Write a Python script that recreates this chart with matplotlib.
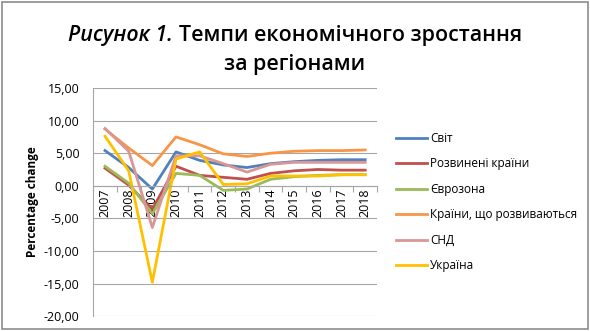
import matplotlib.pyplot as plt
import matplotlib.patches as patches

years = ["2007", "2008", "2009", "2010", "2011", "2012",
         "2013", "2014", "2015", "2016", "2017", "2018"]

world = [5.4, 2.8, -0.5, 5.2, 3.9, 3.2, 2.8, 3.4, 3.7, 3.9, 4.0, 4.0]
advanced = [2.7, 0.1, -3.6, 3.0, 1.6, 1.3, 1.0, 1.9, 2.3, 2.5, 2.4, 2.4]
eurozone = [3.0, 0.4, -4.3, 1.9, 1.6, -0.7, -0.5, 1.0, 1.4, 1.6, 1.7, 1.7]
emerging = [8.7, 5.8, 3.1, 7.5, 6.3, 4.9, 4.5, 5.0, 5.3, 5.4, 5.4, 5.5]
cis = [8.8, 5.3, -6.4, 4.6, 4.6, 3.4, 2.1, 3.3, 3.6, 3.6, 3.6, 3.6]
ukraine = [7.6, 2.3, -14.8, 4.1, 5.2, 0.2, 0.3, 1.5, 1.5, 1.5, 1.7, 1.7]

labels = ["Світ", "Розвинені країни", "Єврозона",
          "Країни, що розвиваються", "СНД", "Україна"]
colors = ["#4F81BD", "#C0504D", "#9BBB59", "#F79646", "#D99694", "#FFC000"]
series = [world, advanced, eurozone, emerging, cis, ukraine]

plt.rcParams['font.family'] = ['Open Sans', 'DejaVu Sans']

fig = plt.figure(figsize=(5.9, 3.31), dpi=100)
fig.patches.append(patches.Rectangle((0.003, 0.005), 0.994, 0.99, transform=fig.transFigure,
                                     fill=False, edgecolor="#8c8c8c", linewidth=1.2))

# title: italic part followed by upright part on one line
renderer = fig.canvas.get_renderer()
t1 = fig.text(0, 0.877, "Рисунок 1. ", fontsize=15.4, style="italic", fontweight="semibold",
              va="baseline")
t2 = fig.text(0, 0.877, "Темпи економічного зростання", fontsize=15.4, fontweight="semibold",
              va="baseline")
w1 = t1.get_window_extent(renderer).width / fig.bbox.width
w2 = t2.get_window_extent(renderer).width / fig.bbox.width
x0 = 0.5 - (w1 + w2) / 2
t1.set_x(x0)
t2.set_x(x0 + w1)
fig.text(0.5, 0.79, "за регіонами", fontsize=15.4, fontweight="semibold",
         ha="center", va="baseline")

ax = fig.add_axes([0.158, 0.045, 0.481, 0.689])
x = range(len(years))
for vals, lab, col in zip(series, labels, colors):
    ax.plot(x, vals, color=col, linewidth=2.0, label=lab)

ax.set_xlim(-0.5, len(years) - 0.5)
ax.set_ylim(-20, 15)
ax.set_yticks(range(-20, 16, 5))
ax.yaxis.set_major_formatter(plt.FuncFormatter(lambda v, p: ("%.2f" % v).replace(".", ",")))
ax.grid(axis="y", color="#a6a6a6", linewidth=0.8)
ax.set_axisbelow(True)

ax.spines["top"].set_visible(False)
ax.spines["right"].set_visible(False)
ax.spines["left"].set_color("#a6a6a6")
ax.spines["bottom"].set_position(("data", 0))
ax.spines["bottom"].set_color("#a6a6a6")

ax.set_xticks([i - 0.5 for i in range(len(years) + 1)])
ax.set_xticklabels([])
ax.set_xticks(list(x), minor=True)
ax.set_xticklabels(years, minor=True, rotation=90, fontsize=9)
ax.tick_params(axis="x", which="minor", length=0, pad=2)
ax.tick_params(axis="x", which="major", length=4, color="#a6a6a6")
ax.tick_params(axis="y", length=0, labelsize=9, pad=10)

ax.set_ylabel("Percentage change", fontsize=8.5, fontweight="bold", labelpad=3)

ax.legend(loc="center left", bbox_to_anchor=(1.03, 0.50), frameon=False,
          fontsize=8.5, handlelength=2.6, labelspacing=1.05, handletextpad=0.3)

fig.savefig("out.png", dpi=100)
